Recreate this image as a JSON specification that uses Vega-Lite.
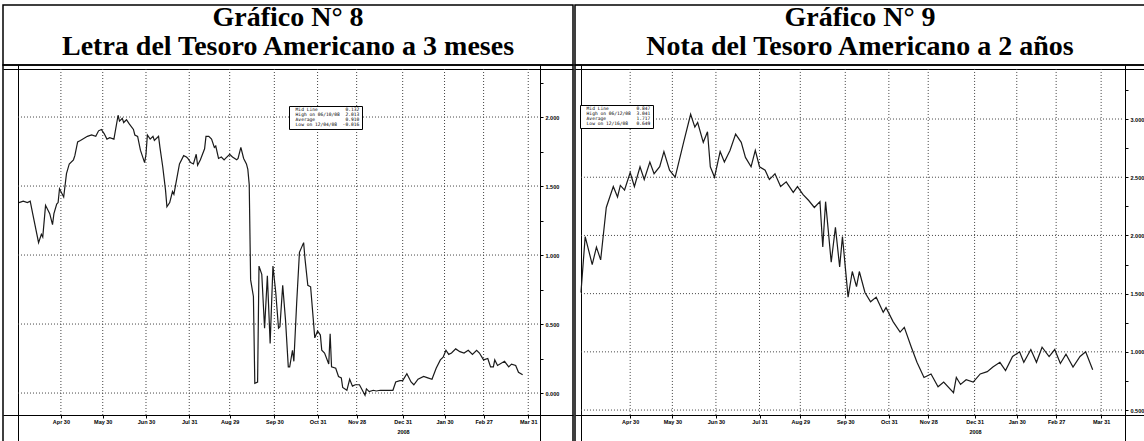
{
  "$schema": "https://vega.github.io/schema/vega-lite/v6.json",
  "padding": {"left": 2, "top": 3, "right": 0, "bottom": 0},
  "background": "white",
  "spacing": 0,
  "config": {
    "view": {"stroke": "black", "strokeWidth": 1.5},
    "concat": {"spacing": 0},
    "axis": {"labelFont": "Liberation Sans", "labelFontSize": 5.5, "labelFontWeight": "bold", "labelColor": "black", "domainColor": "black", "tickColor": "black", "grid": false, "titleColor": "black"}
  },
  "datasets": {
    "meses": [
      {"fecha": "2008-04-30"}, {"fecha": "2008-05-30"}, {"fecha": "2008-06-30"}, {"fecha": "2008-07-31"},
      {"fecha": "2008-08-29"}, {"fecha": "2008-09-30"}, {"fecha": "2008-10-31"}, {"fecha": "2008-11-28"},
      {"fecha": "2008-12-31"}, {"fecha": "2009-01-30"}, {"fecha": "2009-02-27"}, {"fecha": "2009-03-31"}
    ],
    "nivelesL": [{"nivel": 0}, {"nivel": 0.5}, {"nivel": 1}, {"nivel": 1.5}, {"nivel": 2}],
    "nivelesR": [{"nivel": 0.5}, {"nivel": 1}, {"nivel": 1.5}, {"nivel": 2}, {"nivel": 2.5}, {"nivel": 3}],
    "statsL": [
      {"etiqueta": "Mid\u00a0Line\u00a0\u00a0\u00a0\u00a0\u00a0\u00a0\u00a0\u00a0\u00a0\u00a00.132"},
      {"etiqueta": "High\u00a0on\u00a006/10/08\u00a0\u00a02.013"},
      {"etiqueta": "Average\u00a0\u00a0\u00a0\u00a0\u00a0\u00a0\u00a0\u00a0\u00a0\u00a0\u00a00.910"},
      {"etiqueta": "Low\u00a0on\u00a012/04/08\u00a0\u00a0-0.016"}
    ],
    "statsR": [
      {"etiqueta": "Mid\u00a0Line\u00a0\u00a0\u00a0\u00a0\u00a0\u00a0\u00a0\u00a0\u00a0\u00a00.847"},
      {"etiqueta": "High\u00a0on\u00a006/12/08\u00a0\u00a03.041"},
      {"etiqueta": "Average\u00a0\u00a0\u00a0\u00a0\u00a0\u00a0\u00a0\u00a0\u00a0\u00a0\u00a01.717"},
      {"etiqueta": "Low\u00a0on\u00a012/16/08\u00a0\u00a0\u00a00.649"}
    ],
    "letra": [
      {"fecha": "2008-03-31", "tasa": 1.38}, {"fecha": "2008-04-03", "tasa": 1.39}, {"fecha": "2008-04-06", "tasa": 1.38},
      {"fecha": "2008-04-08", "tasa": 1.39}, {"fecha": "2008-04-10", "tasa": 1.29}, {"fecha": "2008-04-14", "tasa": 1.09},
      {"fecha": "2008-04-16", "tasa": 1.15}, {"fecha": "2008-04-17", "tasa": 1.13}, {"fecha": "2008-04-19", "tasa": 1.36},
      {"fecha": "2008-04-22", "tasa": 1.30}, {"fecha": "2008-04-24", "tasa": 1.22}, {"fecha": "2008-04-25", "tasa": 1.30},
      {"fecha": "2008-04-27", "tasa": 1.37}, {"fecha": "2008-04-28", "tasa": 1.38}, {"fecha": "2008-04-29", "tasa": 1.48},
      {"fecha": "2008-05-02", "tasa": 1.42}, {"fecha": "2008-05-04", "tasa": 1.59}, {"fecha": "2008-05-06", "tasa": 1.66},
      {"fecha": "2008-05-09", "tasa": 1.69}, {"fecha": "2008-05-10", "tasa": 1.72}, {"fecha": "2008-05-12", "tasa": 1.82},
      {"fecha": "2008-05-14", "tasa": 1.83}, {"fecha": "2008-05-19", "tasa": 1.86}, {"fecha": "2008-05-22", "tasa": 1.87},
      {"fecha": "2008-05-25", "tasa": 1.86}, {"fecha": "2008-05-27", "tasa": 1.90}, {"fecha": "2008-05-29", "tasa": 1.91},
      {"fecha": "2008-05-31", "tasa": 1.88}, {"fecha": "2008-06-02", "tasa": 1.84}, {"fecha": "2008-06-04", "tasa": 1.85},
      {"fecha": "2008-06-07", "tasa": 1.84}, {"fecha": "2008-06-10", "tasa": 2.013}, {"fecha": "2008-06-11", "tasa": 1.97},
      {"fecha": "2008-06-13", "tasa": 1.99}, {"fecha": "2008-06-14", "tasa": 1.96}, {"fecha": "2008-06-16", "tasa": 1.98},
      {"fecha": "2008-06-18", "tasa": 1.95}, {"fecha": "2008-06-21", "tasa": 1.91}, {"fecha": "2008-06-22", "tasa": 1.87},
      {"fecha": "2008-06-24", "tasa": 1.86}, {"fecha": "2008-06-26", "tasa": 1.76}, {"fecha": "2008-06-29", "tasa": 1.67},
      {"fecha": "2008-06-30", "tasa": 1.73}, {"fecha": "2008-07-01", "tasa": 1.87}, {"fecha": "2008-07-03", "tasa": 1.84},
      {"fecha": "2008-07-05", "tasa": 1.86}, {"fecha": "2008-07-06", "tasa": 1.83}, {"fecha": "2008-07-09", "tasa": 1.86},
      {"fecha": "2008-07-10", "tasa": 1.78}, {"fecha": "2008-07-12", "tasa": 1.64}, {"fecha": "2008-07-14", "tasa": 1.47},
      {"fecha": "2008-07-15", "tasa": 1.35}, {"fecha": "2008-07-17", "tasa": 1.38}, {"fecha": "2008-07-19", "tasa": 1.46},
      {"fecha": "2008-07-20", "tasa": 1.44}, {"fecha": "2008-07-22", "tasa": 1.55}, {"fecha": "2008-07-24", "tasa": 1.66},
      {"fecha": "2008-07-27", "tasa": 1.72}, {"fecha": "2008-07-29", "tasa": 1.71}, {"fecha": "2008-07-30", "tasa": 1.70},
      {"fecha": "2008-08-01", "tasa": 1.67}, {"fecha": "2008-08-03", "tasa": 1.66}, {"fecha": "2008-08-05", "tasa": 1.73},
      {"fecha": "2008-08-06", "tasa": 1.65}, {"fecha": "2008-08-08", "tasa": 1.69}, {"fecha": "2008-08-11", "tasa": 1.77},
      {"fecha": "2008-08-12", "tasa": 1.86}, {"fecha": "2008-08-14", "tasa": 1.86}, {"fecha": "2008-08-16", "tasa": 1.84},
      {"fecha": "2008-08-18", "tasa": 1.78}, {"fecha": "2008-08-19", "tasa": 1.79}, {"fecha": "2008-08-21", "tasa": 1.70},
      {"fecha": "2008-08-23", "tasa": 1.71}, {"fecha": "2008-08-25", "tasa": 1.69}, {"fecha": "2008-08-26", "tasa": 1.70},
      {"fecha": "2008-08-29", "tasa": 1.73}, {"fecha": "2008-08-31", "tasa": 1.71}, {"fecha": "2008-09-03", "tasa": 1.69},
      {"fecha": "2008-09-04", "tasa": 1.70}, {"fecha": "2008-09-06", "tasa": 1.78}, {"fecha": "2008-09-08", "tasa": 1.70},
      {"fecha": "2008-09-10", "tasa": 1.66}, {"fecha": "2008-09-11", "tasa": 1.62}, {"fecha": "2008-09-12", "tasa": 1.51},
      {"fecha": "2008-09-13", "tasa": 0.82}, {"fecha": "2008-09-15", "tasa": 0.70}, {"fecha": "2008-09-16", "tasa": 0.07},
      {"fecha": "2008-09-18", "tasa": 0.08}, {"fecha": "2008-09-19", "tasa": 0.92}, {"fecha": "2008-09-21", "tasa": 0.86},
      {"fecha": "2008-09-23", "tasa": 0.47}, {"fecha": "2008-09-25", "tasa": 0.85}, {"fecha": "2008-09-27", "tasa": 0.36},
      {"fecha": "2008-09-29", "tasa": 0.92}, {"fecha": "2008-10-01", "tasa": 0.73}, {"fecha": "2008-10-03", "tasa": 0.47},
      {"fecha": "2008-10-04", "tasa": 0.48}, {"fecha": "2008-10-06", "tasa": 0.78}, {"fecha": "2008-10-08", "tasa": 0.53},
      {"fecha": "2008-10-10", "tasa": 0.19}, {"fecha": "2008-10-11", "tasa": 0.19}, {"fecha": "2008-10-13", "tasa": 0.31},
      {"fecha": "2008-10-14", "tasa": 0.23}, {"fecha": "2008-10-16", "tasa": 0.65}, {"fecha": "2008-10-18", "tasa": 1.02},
      {"fecha": "2008-10-21", "tasa": 1.09}, {"fecha": "2008-10-22", "tasa": 0.97}, {"fecha": "2008-10-24", "tasa": 0.78},
      {"fecha": "2008-10-26", "tasa": 0.77}, {"fecha": "2008-10-29", "tasa": 0.40}, {"fecha": "2008-10-31", "tasa": 0.45},
      {"fecha": "2008-11-02", "tasa": 0.42}, {"fecha": "2008-11-03", "tasa": 0.31}, {"fecha": "2008-11-05", "tasa": 0.29},
      {"fecha": "2008-11-08", "tasa": 0.21}, {"fecha": "2008-11-09", "tasa": 0.43}, {"fecha": "2008-11-10", "tasa": 0.19},
      {"fecha": "2008-11-13", "tasa": 0.18}, {"fecha": "2008-11-15", "tasa": 0.12}, {"fecha": "2008-11-17", "tasa": 0.11},
      {"fecha": "2008-11-18", "tasa": 0.04}, {"fecha": "2008-11-21", "tasa": 0.02}, {"fecha": "2008-11-23", "tasa": 0.10},
      {"fecha": "2008-11-25", "tasa": 0.05}, {"fecha": "2008-11-27", "tasa": 0.06}, {"fecha": "2008-11-30", "tasa": 0.06},
      {"fecha": "2008-12-04", "tasa": -0.016}, {"fecha": "2008-12-05", "tasa": 0.03}, {"fecha": "2008-12-07", "tasa": 0.01},
      {"fecha": "2008-12-10", "tasa": 0.02}, {"fecha": "2008-12-12", "tasa": 0.015}, {"fecha": "2008-12-15", "tasa": 0.02},
      {"fecha": "2008-12-18", "tasa": 0.02}, {"fecha": "2008-12-21", "tasa": 0.02}, {"fecha": "2008-12-24", "tasa": 0.02},
      {"fecha": "2008-12-26", "tasa": 0.08}, {"fecha": "2008-12-29", "tasa": 0.09}, {"fecha": "2008-12-31", "tasa": 0.09},
      {"fecha": "2009-01-03", "tasa": 0.14}, {"fecha": "2009-01-06", "tasa": 0.08}, {"fecha": "2009-01-08", "tasa": 0.06},
      {"fecha": "2009-01-11", "tasa": 0.10}, {"fecha": "2009-01-15", "tasa": 0.12}, {"fecha": "2009-01-18", "tasa": 0.11},
      {"fecha": "2009-01-21", "tasa": 0.10}, {"fecha": "2009-01-24", "tasa": 0.18}, {"fecha": "2009-01-27", "tasa": 0.24},
      {"fecha": "2009-01-29", "tasa": 0.26}, {"fecha": "2009-01-31", "tasa": 0.31}, {"fecha": "2009-02-02", "tasa": 0.28},
      {"fecha": "2009-02-04", "tasa": 0.29}, {"fecha": "2009-02-07", "tasa": 0.32}, {"fecha": "2009-02-10", "tasa": 0.30},
      {"fecha": "2009-02-13", "tasa": 0.29}, {"fecha": "2009-02-16", "tasa": 0.31}, {"fecha": "2009-02-19", "tasa": 0.28},
      {"fecha": "2009-02-22", "tasa": 0.31}, {"fecha": "2009-02-24", "tasa": 0.29}, {"fecha": "2009-02-27", "tasa": 0.24},
      {"fecha": "2009-03-02", "tasa": 0.25}, {"fecha": "2009-03-04", "tasa": 0.19}, {"fecha": "2009-03-06", "tasa": 0.19},
      {"fecha": "2009-03-07", "tasa": 0.24}, {"fecha": "2009-03-09", "tasa": 0.20}, {"fecha": "2009-03-14", "tasa": 0.23},
      {"fecha": "2009-03-17", "tasa": 0.19}, {"fecha": "2009-03-19", "tasa": 0.21}, {"fecha": "2009-03-22", "tasa": 0.20},
      {"fecha": "2009-03-24", "tasa": 0.15}, {"fecha": "2009-03-27", "tasa": 0.132}
    ],
    "nota": [
      {"fecha": "2008-03-26", "tasa": 1.51}, {"fecha": "2008-03-29", "tasa": 1.99}, {"fecha": "2008-04-03", "tasa": 1.75},
      {"fecha": "2008-04-06", "tasa": 1.90}, {"fecha": "2008-04-09", "tasa": 1.79}, {"fecha": "2008-04-13", "tasa": 2.24},
      {"fecha": "2008-04-18", "tasa": 2.42}, {"fecha": "2008-04-21", "tasa": 2.33}, {"fecha": "2008-04-23", "tasa": 2.43},
      {"fecha": "2008-04-26", "tasa": 2.39}, {"fecha": "2008-04-30", "tasa": 2.54}, {"fecha": "2008-05-03", "tasa": 2.42},
      {"fecha": "2008-05-07", "tasa": 2.59}, {"fecha": "2008-05-10", "tasa": 2.48}, {"fecha": "2008-05-14", "tasa": 2.63},
      {"fecha": "2008-05-17", "tasa": 2.53}, {"fecha": "2008-05-21", "tasa": 2.59}, {"fecha": "2008-05-24", "tasa": 2.72},
      {"fecha": "2008-05-28", "tasa": 2.56}, {"fecha": "2008-06-01", "tasa": 2.50}, {"fecha": "2008-06-07", "tasa": 2.80},
      {"fecha": "2008-06-12", "tasa": 3.041}, {"fecha": "2008-06-15", "tasa": 2.93}, {"fecha": "2008-06-17", "tasa": 2.97},
      {"fecha": "2008-06-21", "tasa": 2.80}, {"fecha": "2008-06-24", "tasa": 2.89}, {"fecha": "2008-06-26", "tasa": 2.59},
      {"fecha": "2008-06-29", "tasa": 2.50}, {"fecha": "2008-07-03", "tasa": 2.72}, {"fecha": "2008-07-06", "tasa": 2.63},
      {"fecha": "2008-07-10", "tasa": 2.73}, {"fecha": "2008-07-14", "tasa": 2.87}, {"fecha": "2008-07-18", "tasa": 2.80},
      {"fecha": "2008-07-21", "tasa": 2.67}, {"fecha": "2008-07-25", "tasa": 2.59}, {"fecha": "2008-07-28", "tasa": 2.73},
      {"fecha": "2008-07-31", "tasa": 2.59}, {"fecha": "2008-08-04", "tasa": 2.56}, {"fecha": "2008-08-07", "tasa": 2.48},
      {"fecha": "2008-08-11", "tasa": 2.53}, {"fecha": "2008-08-15", "tasa": 2.42}, {"fecha": "2008-08-19", "tasa": 2.46},
      {"fecha": "2008-08-24", "tasa": 2.37}, {"fecha": "2008-08-27", "tasa": 2.42}, {"fecha": "2008-08-31", "tasa": 2.35},
      {"fecha": "2008-09-04", "tasa": 2.30}, {"fecha": "2008-09-08", "tasa": 2.24}, {"fecha": "2008-09-12", "tasa": 2.29},
      {"fecha": "2008-09-14", "tasa": 1.90}, {"fecha": "2008-09-16", "tasa": 2.29}, {"fecha": "2008-09-20", "tasa": 1.77},
      {"fecha": "2008-09-23", "tasa": 2.07}, {"fecha": "2008-09-26", "tasa": 1.73}, {"fecha": "2008-09-28", "tasa": 1.99},
      {"fecha": "2008-10-02", "tasa": 1.47}, {"fecha": "2008-10-05", "tasa": 1.69}, {"fecha": "2008-10-08", "tasa": 1.56},
      {"fecha": "2008-10-10", "tasa": 1.69}, {"fecha": "2008-10-14", "tasa": 1.51}, {"fecha": "2008-10-18", "tasa": 1.43},
      {"fecha": "2008-10-22", "tasa": 1.47}, {"fecha": "2008-10-27", "tasa": 1.34}, {"fecha": "2008-10-29", "tasa": 1.38},
      {"fecha": "2008-11-03", "tasa": 1.26}, {"fecha": "2008-11-08", "tasa": 1.17}, {"fecha": "2008-11-11", "tasa": 1.21},
      {"fecha": "2008-11-16", "tasa": 1.04}, {"fecha": "2008-11-20", "tasa": 0.91}, {"fecha": "2008-11-25", "tasa": 0.78},
      {"fecha": "2008-11-30", "tasa": 0.81}, {"fecha": "2008-12-05", "tasa": 0.70}, {"fecha": "2008-12-09", "tasa": 0.74},
      {"fecha": "2008-12-16", "tasa": 0.649}, {"fecha": "2008-12-18", "tasa": 0.78}, {"fecha": "2008-12-21", "tasa": 0.72},
      {"fecha": "2008-12-25", "tasa": 0.76}, {"fecha": "2008-12-30", "tasa": 0.74}, {"fecha": "2009-01-04", "tasa": 0.81},
      {"fecha": "2009-01-09", "tasa": 0.83}, {"fecha": "2009-01-13", "tasa": 0.87}, {"fecha": "2009-01-18", "tasa": 0.91},
      {"fecha": "2009-01-22", "tasa": 0.84}, {"fecha": "2009-01-27", "tasa": 0.96}, {"fecha": "2009-02-01", "tasa": 1.00},
      {"fecha": "2009-02-04", "tasa": 0.91}, {"fecha": "2009-02-09", "tasa": 1.02}, {"fecha": "2009-02-13", "tasa": 0.91},
      {"fecha": "2009-02-17", "tasa": 1.04}, {"fecha": "2009-02-22", "tasa": 0.96}, {"fecha": "2009-02-26", "tasa": 1.02},
      {"fecha": "2009-03-02", "tasa": 0.90}, {"fecha": "2009-03-06", "tasa": 0.98}, {"fecha": "2009-03-11", "tasa": 0.87},
      {"fecha": "2009-03-16", "tasa": 0.96}, {"fecha": "2009-03-20", "tasa": 1.00}, {"fecha": "2009-03-25", "tasa": 0.847}
    ]
  },
  "resolve": {"scale": {"color": "independent"}, "legend": {"color": "independent"}},
  "hconcat": [
    {
      "spacing": 0,
      "bounds": "flush",
      "resolve": {"scale": {"color": "independent"}, "legend": {"color": "independent"}},
      "vconcat": [
        {
          "width": 570, "height": 60,
          "data": {"values": [{"linea": 1, "texto": "Gráfico N° 8"}, {"linea": 2, "texto": "Letra del Tesoro Americano a 3 meses"}]},
          "mark": {"type": "text", "font": "Liberation Serif", "fontWeight": "bold", "fontSize": 28, "baseline": "middle", "color": "black"},
          "encoding": {
            "y": {"field": "linea", "type": "ordinal", "scale": {"type": "point", "range": [13, 42], "padding": 0}, "axis": null},
            "text": {"field": "texto"}
          }
        },
        {
          "width": 570, "height": 378,
          "resolve": {"axis": {"x": "independent", "y": "independent"}},
          "layer": [
            {
              "data": {"name": "meses"},
              "mark": {"type": "rule", "color": "#444", "strokeDash": [1, 2], "strokeWidth": 1},
              "encoding": {
                "x": {"field": "fecha", "type": "temporal", "scale": {"type": "utc", "domain": [{"year": 2008, "month": 3, "date": 19, "hours": 12, "utc": true}, {"year": 2009, "month": 5, "date": 2, "hours": 2, "utc": true}]}, "axis": null},
                "y": {"datum": 2.348, "type": "quantitative", "scale": {"domain": [-0.362, 2.377], "nice": false, "zero": false}, "axis": null},
                "y2": {"datum": -0.159}
              }
            },
            {
              "data": {"name": "nivelesL"},
              "mark": {"type": "rule", "color": "#444", "strokeDash": [1, 2], "strokeWidth": 1},
              "encoding": {
                "y": {"field": "nivel", "type": "quantitative", "scale": {"domain": [-0.362, 2.377], "nice": false, "zero": false}, "axis": null},
                "x": {"datum": {"year": 2008, "month": 3, "date": 30, "hours": 6, "utc": true}, "type": "temporal", "scale": {"type": "utc", "domain": [{"year": 2008, "month": 3, "date": 19, "hours": 12, "utc": true}, {"year": 2009, "month": 5, "date": 2, "hours": 2, "utc": true}]}, "axis": null},
                "x2": {"datum": {"year": 2009, "month": 4, "date": 7, "hours": 18, "utc": true}}
              }
            },
            {
              "data": {"name": "letra"},
              "mark": {"type": "line", "opacity": 0},
              "encoding": {
                "x": {"field": "fecha", "type": "temporal", "scale": {"type": "utc", "domain": [{"year": 2008, "month": 3, "date": 19, "hours": 12, "utc": true}, {"year": 2009, "month": 5, "date": 2, "hours": 2, "utc": true}]}, "axis": {"orient": "top", "offset": -4, "labels": false, "ticks": false, "title": null}},
                "y": {"field": "tasa", "type": "quantitative", "scale": {"domain": [-0.362, 2.377], "nice": false, "zero": false}, "axis": {"orient": "left", "offset": -15, "labels": false, "ticks": false, "title": null}}
              }
            },
            {
              "data": {"name": "letra"},
              "mark": {"type": "line", "color": "#1a1a1a", "strokeWidth": 1.2},
              "encoding": {
                "x": {"field": "fecha", "type": "temporal", "scale": {"type": "utc", "domain": [{"year": 2008, "month": 3, "date": 19, "hours": 12, "utc": true}, {"year": 2009, "month": 5, "date": 2, "hours": 2, "utc": true}]},
                  "axis": {"orient": "bottom", "offset": -28, "format": "%b %d", "tickSize": 3, "labelPadding": 1,
                    "values": [{"year": 2008, "month": 4, "date": 30, "utc": true}, {"year": 2008, "month": 5, "date": 30, "utc": true}, {"year": 2008, "month": 6, "date": 30, "utc": true}, {"year": 2008, "month": 7, "date": 31, "utc": true}, {"year": 2008, "month": 8, "date": 29, "utc": true}, {"year": 2008, "month": 9, "date": 30, "utc": true}, {"year": 2008, "month": 10, "date": 31, "utc": true}, {"year": 2008, "month": 11, "date": 28, "utc": true}, {"year": 2008, "month": 12, "date": 31, "utc": true}, {"year": 2009, "month": 1, "date": 30, "utc": true}, {"year": 2009, "month": 2, "date": 27, "utc": true}, {"year": 2009, "month": 3, "date": 31, "utc": true}],
                    "title": "2008", "titleX": 400, "titleY": 14, "titleAlign": "center", "titleBaseline": "top", "titleFont": "Liberation Sans", "titleFontSize": 5.5, "titleFontWeight": "bold"}},
                "y": {"field": "tasa", "type": "quantitative", "scale": {"domain": [-0.362, 2.377], "nice": false, "zero": false},
                  "axis": {"orient": "right", "offset": -33, "values": [0, 0.25, 0.5, 0.75, 1, 1.25, 1.5, 1.75, 2, 2.25], "labelExpr": "(datum.value * 2) % 1 === 0 ? format(datum.value, '.3f') : ''", "tickSize": 3, "labelPadding": 2, "title": null}}
              }
            },
            {
              "data": {"name": "statsL"},
              "mark": {"type": "point", "opacity": 0},
              "encoding": {
                "color": {"field": "etiqueta", "type": "nominal", "sort": null, "scale": {"range": ["black"]},
                  "legend": {"orient": "none", "legendX": 286, "legendY": 41, "title": null, "strokeColor": "black", "fillColor": "white", "padding": 2, "labelFont": "DejaVu Sans Mono", "labelFontSize": 4.6, "labelColor": "black", "rowPadding": 0, "symbolSize": 0, "symbolStrokeWidth": 0, "symbolOpacity": 0, "labelOffset": 0, "labelLimit": 400}}
              }
            }
          ]
        }
      ]
    },
    {
      "spacing": 0,
      "bounds": "flush",
      "resolve": {"scale": {"color": "independent"}, "legend": {"color": "independent"}},
      "vconcat": [
        {
          "width": 570, "height": 60,
          "data": {"values": [{"linea": 1, "texto": "Gráfico N° 9"}, {"linea": 2, "texto": "Nota del Tesoro Americano a 2 años"}]},
          "mark": {"type": "text", "font": "Liberation Serif", "fontWeight": "bold", "fontSize": 28, "baseline": "middle", "color": "black"},
          "encoding": {
            "y": {"field": "linea", "type": "ordinal", "scale": {"type": "point", "range": [13, 42], "padding": 0}, "axis": null},
            "text": {"field": "texto"}
          }
        },
        {
          "width": 570, "height": 378,
          "resolve": {"axis": {"x": "independent", "y": "independent"}},
          "layer": [
            {
              "data": {"name": "meses"},
              "mark": {"type": "rule", "color": "#444", "strokeDash": [1, 2], "strokeWidth": 1},
              "encoding": {
                "x": {"field": "fecha", "type": "temporal", "scale": {"type": "utc", "domain": [{"year": 2008, "month": 3, "date": 21, "hours": 18, "utc": true}, {"year": 2009, "month": 5, "date": 1, "hours": 5, "utc": true}]}, "axis": null},
                "y": {"datum": 3.43, "type": "quantitative", "scale": {"domain": [0.217, 3.464], "nice": false, "zero": false}, "axis": null},
                "y2": {"datum": 0.457}
              }
            },
            {
              "data": {"name": "nivelesR"},
              "mark": {"type": "rule", "color": "#444", "strokeDash": [1, 2], "strokeWidth": 1},
              "encoding": {
                "y": {"field": "nivel", "type": "quantitative", "scale": {"domain": [0.217, 3.464], "nice": false, "zero": false}, "axis": null},
                "x": {"datum": {"year": 2008, "month": 3, "date": 26, "utc": true}, "type": "temporal", "scale": {"type": "utc", "domain": [{"year": 2008, "month": 3, "date": 21, "hours": 18, "utc": true}, {"year": 2009, "month": 5, "date": 1, "hours": 5, "utc": true}]}, "axis": null},
                "x2": {"datum": {"year": 2009, "month": 4, "date": 16, "hours": 5, "utc": true}}
              }
            },
            {
              "data": {"name": "nota"},
              "mark": {"type": "line", "opacity": 0},
              "encoding": {
                "x": {"field": "fecha", "type": "temporal", "scale": {"type": "utc", "domain": [{"year": 2008, "month": 3, "date": 21, "hours": 18, "utc": true}, {"year": 2009, "month": 5, "date": 1, "hours": 5, "utc": true}]}, "axis": {"orient": "top", "offset": -4, "labels": false, "ticks": false, "title": null}},
                "y": {"field": "tasa", "type": "quantitative", "scale": {"domain": [0.217, 3.464], "nice": false, "zero": false}, "axis": {"orient": "left", "offset": -6, "labels": false, "ticks": false, "title": null}}
              }
            },
            {
              "data": {"name": "nota"},
              "mark": {"type": "line", "color": "#1a1a1a", "strokeWidth": 1.2},
              "encoding": {
                "x": {"field": "fecha", "type": "temporal", "scale": {"type": "utc", "domain": [{"year": 2008, "month": 3, "date": 21, "hours": 18, "utc": true}, {"year": 2009, "month": 5, "date": 1, "hours": 5, "utc": true}]},
                  "axis": {"orient": "bottom", "offset": -28, "format": "%b %d", "tickSize": 3, "labelPadding": 1,
                    "values": [{"year": 2008, "month": 4, "date": 30, "utc": true}, {"year": 2008, "month": 5, "date": 30, "utc": true}, {"year": 2008, "month": 6, "date": 30, "utc": true}, {"year": 2008, "month": 7, "date": 31, "utc": true}, {"year": 2008, "month": 8, "date": 29, "utc": true}, {"year": 2008, "month": 9, "date": 30, "utc": true}, {"year": 2008, "month": 10, "date": 31, "utc": true}, {"year": 2008, "month": 11, "date": 28, "utc": true}, {"year": 2008, "month": 12, "date": 31, "utc": true}, {"year": 2009, "month": 1, "date": 30, "utc": true}, {"year": 2009, "month": 2, "date": 27, "utc": true}, {"year": 2009, "month": 3, "date": 31, "utc": true}],
                    "title": "2008", "titleX": 400, "titleY": 14, "titleAlign": "center", "titleBaseline": "top", "titleFont": "Liberation Sans", "titleFontSize": 5.5, "titleFontWeight": "bold"}},
                "y": {"field": "tasa", "type": "quantitative", "scale": {"domain": [0.217, 3.464], "nice": false, "zero": false},
                  "axis": {"orient": "right", "offset": -20, "values": [0.5, 0.75, 1, 1.25, 1.5, 1.75, 2, 2.25, 2.5, 2.75, 3, 3.25], "labelExpr": "(datum.value * 2) % 1 === 0 ? format(datum.value, '.3f') : ''", "tickSize": 3, "labelPadding": 2, "title": null}}
              }
            },
            {
              "data": {"name": "statsR"},
              "mark": {"type": "point", "opacity": 0},
              "encoding": {
                "color": {"field": "etiqueta", "type": "nominal", "sort": null, "scale": {"range": ["black"]},
                  "legend": {"orient": "none", "legendX": 5, "legendY": 40, "title": null, "strokeColor": "black", "fillColor": "white", "padding": 2, "labelFont": "DejaVu Sans Mono", "labelFontSize": 4.6, "labelColor": "black", "rowPadding": 0, "symbolSize": 0, "symbolStrokeWidth": 0, "symbolOpacity": 0, "labelOffset": 0, "labelLimit": 400}}
              }
            }
          ]
        }
      ]
    }
  ]
}
